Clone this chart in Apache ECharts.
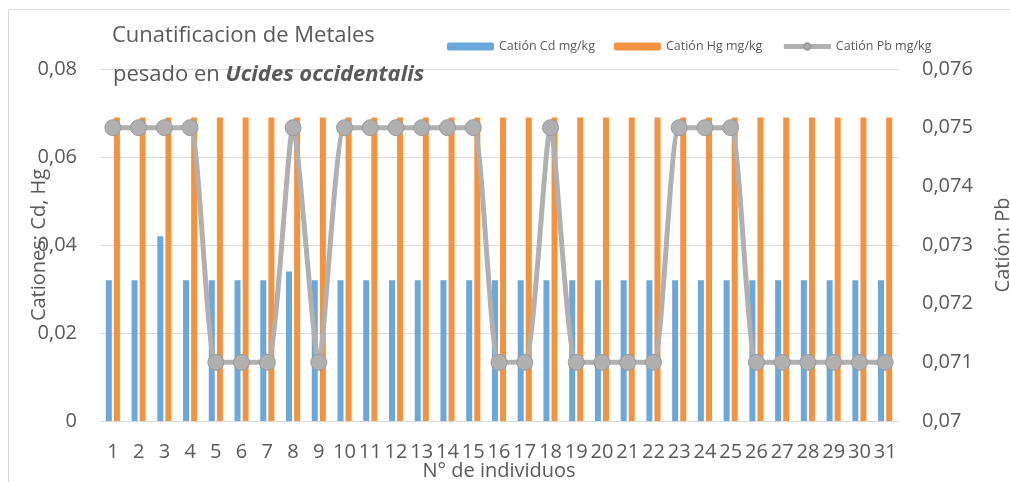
<!DOCTYPE html>
<html>
<head>
<meta charset="utf-8">
<title>Cunatificacion de Metales</title>
<script src="https://cdn.jsdelivr.net/npm/echarts@6/dist/echarts.min.js"></script>
<style>
  html, body { margin: 0; padding: 0; background: #ffffff; overflow: hidden; }
  #chart { width: 1010px; height: 482px; }
</style>
</head>
<body>
<div id="chart"></div>
<script>
// Individuals 1..31
const categories = ['1','2','3','4','5','6','7','8','9','10','11','12','13','14','15','16',
  '17','18','19','20','21','22','23','24','25','26','27','28','29','30','31'];

// Cadmium (mg/kg), left axis
const cdValues = [0.032,0.032,0.042,0.032,0.032,0.032,0.032,0.034,0.032,0.032,0.032,0.032,0.032,0.032,0.032,0.032,
  0.032,0.032,0.032,0.032,0.032,0.032,0.032,0.032,0.032,0.032,0.032,0.032,0.032,0.032,0.032];

// Mercury (mg/kg), left axis
const hgValues = [0.069,0.069,0.069,0.069,0.069,0.069,0.069,0.069,0.069,0.069,0.069,0.069,0.069,0.069,0.069,0.069,
  0.069,0.069,0.069,0.069,0.069,0.069,0.069,0.069,0.069,0.069,0.069,0.069,0.069,0.069,0.069];

// Lead (mg/kg), right axis
const pbValues = [0.075,0.075,0.075,0.075,0.071,0.071,0.071,0.075,0.071,0.075,0.075,0.075,0.075,0.075,0.075,0.071,
  0.071,0.075,0.071,0.071,0.071,0.071,0.075,0.075,0.075,0.071,0.071,0.071,0.071,0.071,0.071];

const seriesNames = ['Catión Cd mg/kg', 'Catión Hg mg/kg', 'Catión Pb mg/kg'];

const FONT = '"Open Sans", "Noto Sans", sans-serif';
const TEXT = '#595959';
const GRID = '#d9d9d9';
const PB = '#b0b0b0';
const fmt = v => String(v).replace('.', ',');

const chart = echarts.init(document.getElementById('chart'), null, { renderer: 'canvas' });

chart.setOption({
  backgroundColor: '#ffffff',
  animation: false,
  textStyle: { fontFamily: FONT },
  graphic: [{
    type: 'rect',
    silent: true,
    z: -10,
    shape: { x: 8.5, y: 9.5, width: 1100, height: 600 },
    style: { fill: 'none', stroke: GRID, lineWidth: 1 }
  }],
  title: [{
    text: 'Cunatificacion de Metales',
    left: 107, top: 20,
    textStyle: { fontFamily: FONT, fontSize: 22, fontWeight: 'normal', color: TEXT }
  }, {
    text: '{a|pesado en }{b|Ucides occidentalis}',
    left: 108, top: 59,
    textStyle: {
      rich: {
        a: { fontFamily: FONT, fontSize: 22, fontWeight: 'normal', color: TEXT },
        b: { fontFamily: FONT, fontSize: 22, color: TEXT, fontWeight: 'bold', fontStyle: 'italic' }
      }
    }
  }],
  legend: {
    data: [
      { name: seriesNames[0] },
      { name: seriesNames[1] },
      { name: seriesNames[2], lineStyle: { width: 5, color: PB } }
    ],
    left: 442, top: 35,
    itemWidth: 47, itemHeight: 8,
    itemGap: 19,
    textStyle: { fontFamily: FONT, fontSize: 12.5, color: TEXT }
  },
  grid: { left: 100, right: 112, top: 69, bottom: 61, containLabel: false, outerBoundsMode: 'none' },
  xAxis: {
    type: 'category',
    data: categories,
    name: 'N° de individuos',
    nameLocation: 'middle',
    nameGap: 40,
    nameMoveOverlap: false,
    nameTextStyle: { fontFamily: FONT, fontSize: 20, color: TEXT },
    axisLine: { lineStyle: { color: GRID, width: 1 } },
    axisTick: { show: false },
    axisLabel: { interval: 0, margin: 21, fontFamily: FONT, fontSize: 20, color: TEXT }
  },
  yAxis: [{
    type: 'value',
    min: 0, max: 0.08, interval: 0.02,
    name: 'Cationes: Cd, Hg',
    nameLocation: 'middle',
    nameRotate: 90,
    nameGap: 51,
    nameMoveOverlap: false,
    nameTextStyle: { fontFamily: FONT, fontSize: 20, color: TEXT },
    axisLine: { show: false },
    axisTick: { show: false },
    splitLine: { lineStyle: { color: GRID, width: 1 } },
    axisLabel: { margin: 23, fontFamily: FONT, fontSize: 20, color: TEXT, formatter: fmt }
  }, {
    type: 'value',
    min: 0.07, max: 0.076, interval: 0.001,
    position: 'right',
    name: 'Catión: Pb',
    nameLocation: 'middle',
    nameRotate: 90,
    nameGap: 95,
    nameMoveOverlap: false,
    nameTextStyle: { fontFamily: FONT, fontSize: 20, color: TEXT },
    axisLine: { show: false },
    axisTick: { show: false },
    splitLine: { show: false },
    axisLabel: { margin: 24, fontFamily: FONT, fontSize: 20, color: TEXT, formatter: fmt }
  }],
  series: [{
    name: seriesNames[0],
    type: 'bar',
    yAxisIndex: 0,
    data: cdValues,
    barWidth: 6,
    barGap: '35%',
    itemStyle: { color: '#6aa8db' }
  }, {
    name: seriesNames[1],
    type: 'bar',
    yAxisIndex: 0,
    data: hgValues,
    barWidth: 6,
    barGap: '35%',
    itemStyle: { color: '#f39340' }
  }, {
    name: seriesNames[2],
    type: 'line',
    yAxisIndex: 1,
    data: pbValues,
    smooth: 0.2,
    z: 5,
    symbol: 'circle',
    symbolSize: 16,
    lineStyle: { color: PB, width: 5 },
    itemStyle: { color: PB, borderColor: '#9a9a9a', borderWidth: 1 }
  }]
});
</script>
</body>
</html>
